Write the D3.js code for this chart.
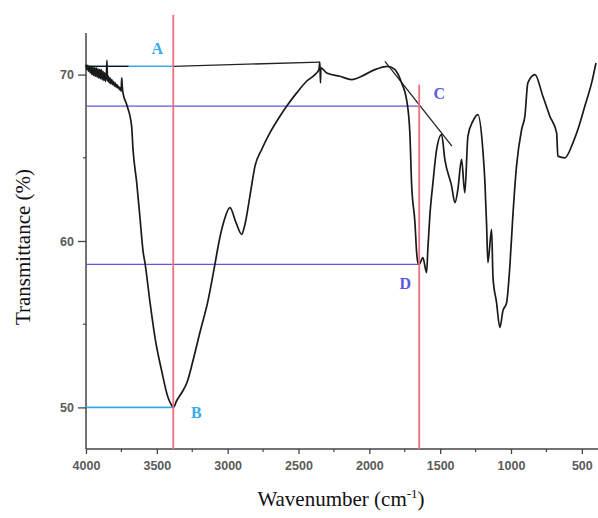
<!DOCTYPE html>
<html>
<head>
<meta charset="utf-8">
<script src="https://cdn.jsdelivr.net/npm/d3@7"></script>
<style>
html,body{margin:0;padding:0;background:#fff;}
svg{display:block;}
</style>
</head>
<body>
<svg id="chart" width="598" height="518"></svg>
<script>
// ---- data ----
const wavenumber = [4000,3994,3988,3982,3976,3970,3964,3958,3952,3946,3940,3934,3928,3922,3916,3910,3904,3898,3892,3886,3880,3874,3868,3862,3856,3852,3848,3842,3836,3830,3824,3818,3812,3806,3800,3794,3788,3782,3776,3770,3764,3758,3752,3748,3744,3739,3713,3678,3668,3642,3619,3596,3584,3548,3513,3466,3421,3400,3384,3360,3316,3287,3245,3196,3139,3090,3060,3026,2984,2941,2901,2878,2843,2807,2760,2702,2631,2575,2513,2443,2384,2356,2349,2345,2342,2301,2208,2125,2031,1961,1869,1819,1772,1737,1714,1702,1678,1666,1657,1648,1622,1596,1587,1573,1551,1525,1490,1467,1419,1396,1375,1349,1326,1304,1269,1234,1199,1184,1172,1163,1137,1127,1102,1079,1057,1031,1008,987,961,925,902,881,831,775,726,678,669,620,563,528,479,431,400];
const transmittance = [70.6,70.3,70.55,70.2,70.5,70.1,70.5,70.0,70.45,69.95,70.4,69.9,70.4,69.85,70.35,69.8,70.3,69.75,70.3,69.7,70.2,69.65,70.1,69.6,70.0,70.85,69.6,69.9,69.5,69.8,69.45,69.7,69.4,69.6,69.3,69.5,69.25,69.4,69.2,69.3,69.1,69.2,69.0,69.8,69.3,68.9,68.2,66.9,65.5,63.5,61.4,59.3,58.7,56.3,54.2,52.2,50.6,50.2,50.0,50.4,51.0,51.5,52.8,54.5,56.4,58.6,60.0,61.2,62.0,61.1,60.4,61.0,62.7,64.5,65.5,66.5,67.5,68.2,68.9,69.6,70.0,70.3,70.75,69.5,70.4,70.1,69.9,69.7,70.0,70.3,70.5,70.3,69.5,68.5,66.5,63.5,61.1,59.3,58.7,58.6,59.0,58.1,59.5,61.5,63.5,65.5,66.4,64.9,63.3,62.3,63.1,64.9,62.9,66.3,67.2,67.6,65.5,63.5,60.9,58.7,60.7,57.8,56.3,54.8,55.8,56.3,58.5,61.5,64.5,66.7,67.5,69.5,70.0,68.7,67.5,66.5,65.1,65.0,65.9,66.7,68.1,69.5,70.7];
const xTickValues = [4000,3500,3000,2500,2000,1500,1000,500];
const xMinorTicks = [3750,3250,2750,2250,1750,1250,750];
const yTickValues = [50,60,70];
const yMinorTicks = [55,65];
// annotation values
const markA = {w:3384, t:70.5, label:"A"};
const markB = {w:3384, t:50.0, label:"B"};
const markC = {w:1648, t:68.1, label:"C"};
const markD = {w:1648, t:58.6, label:"D"};
const baselineAB = [[4000,70.5],[3700,70.5]];
const baselineTop = [[3384,70.5],[2349,70.75]];
const tangentC = [[1890,70.8],[1417,65.7]];
const redTops = [73.6, 69.4];

// ---- layout ----
const svg = d3.select("#chart");
const mL = 86, mR = 596, mT = 33, mB = 449;
const x = d3.scaleLinear().domain([4000,400]).range([mL,mR]);
const y = d3.scaleLinear().domain([47.5,72.5]).range([mB,mT]);

const cyan = "#3aaae6", blue = "#5a5ae0", red = "#f07080";
const tickColor = "#5a5a5a";

// axes
const xAxis = d3.axisBottom(x).tickValues(xTickValues).tickSize(5).tickPadding(7).tickFormat(d3.format("d"));
const gx = svg.append("g").attr("transform",`translate(0,${mB})`).call(xAxis);
gx.select(".domain").attr("stroke","#444").attr("stroke-width",1.5).attr("d",`M${mL},0H${598}`);
gx.selectAll(".tick line").attr("stroke","#444").attr("stroke-width",1.3);
gx.selectAll(".tick text").attr("fill",tickColor).attr("font-family","Arial, 'Liberation Sans', sans-serif").attr("font-weight","bold").attr("font-size",12.5);
svg.append("g").selectAll("line").data(xMinorTicks).join("line")
  .attr("x1",d=>x(d)).attr("x2",d=>x(d)).attr("y1",mB).attr("y2",mB+3)
  .attr("stroke","#444").attr("stroke-width",1.2);

const yAxis = d3.axisLeft(y).tickValues(yTickValues).tickSize(8).tickPadding(4);
const gy = svg.append("g").attr("transform",`translate(${mL},0)`).call(yAxis);
gy.select(".domain").attr("stroke","#444").attr("stroke-width",1.5).attr("d",`M0,${mT}V${mB}`);
gy.selectAll(".tick line").attr("stroke","#444").attr("stroke-width",1.3);
gy.selectAll(".tick text").attr("fill",tickColor).attr("font-family","Arial, 'Liberation Sans', sans-serif").attr("font-weight","bold").attr("font-size",12.5);
svg.append("g").selectAll("line").data(yMinorTicks).join("line")
  .attr("x1",mL).attr("x2",mL-3).attr("y1",d=>y(d)).attr("y2",d=>y(d))
  .attr("stroke","#444").attr("stroke-width",1.2);

// axis titles
svg.append("text").attr("transform",`translate(30,${247}) rotate(-90)`)
  .attr("text-anchor","middle").attr("font-family","'Liberation Serif','Times New Roman',serif")
  .attr("font-size",21).attr("fill","#111").text("Transmittance (%)");
const xt = svg.append("text").attr("x",341).attr("y",506)
  .attr("text-anchor","middle").attr("font-family","'Liberation Serif','Times New Roman',serif")
  .attr("font-size",21).attr("fill","#111");
xt.append("tspan").text("Wavenumber (cm");
xt.append("tspan").attr("dy",-8).attr("font-size",13).text("-1");
xt.append("tspan").attr("dy",8).text(")");

// guide lines
const line = d3.line().x(d=>x(d[0])).y(d=>y(d[1]));
svg.append("line").attr("x1",x(4000)).attr("x2",x(markA.w)).attr("y1",y(markA.t)).attr("y2",y(markA.t)).attr("stroke",cyan).attr("stroke-width",1.6);
svg.append("line").attr("x1",x(4000)).attr("x2",x(markB.w)).attr("y1",y(markB.t)).attr("y2",y(markB.t)).attr("stroke",cyan).attr("stroke-width",1.6);
svg.append("line").attr("x1",x(4000)).attr("x2",x(markC.w)).attr("y1",y(markC.t)).attr("y2",y(markC.t)).attr("stroke",blue).attr("stroke-width",1.3);
svg.append("line").attr("x1",x(4000)).attr("x2",x(markD.w)).attr("y1",y(markD.t)).attr("y2",y(markD.t)).attr("stroke",blue).attr("stroke-width",1.3);
svg.append("path").attr("d",line(baselineAB)).attr("stroke","#111").attr("stroke-width",1.3).attr("fill","none");
svg.append("path").attr("d",line(baselineTop)).attr("stroke","#222").attr("stroke-width",1.3).attr("fill","none");
svg.append("path").attr("d",line(tangentC)).attr("stroke","#222").attr("stroke-width",1.3).attr("fill","none");

// spectrum
const data = wavenumber.map((w,i)=>[w,transmittance[i]]);
const specLine = d3.line().x(d=>x(d[0])).y(d=>y(d[1])).curve(d3.curveMonotoneX);
svg.append("path").attr("d",specLine(data)).attr("fill","none").attr("stroke","#1a1a1a").attr("stroke-width",1.7).attr("stroke-linejoin","round");

// red verticals
svg.append("line").attr("x1",x(markA.w)).attr("x2",x(markA.w)).attr("y1",y(redTops[0])).attr("y2",mB).attr("stroke",red).attr("stroke-width",1.8);
svg.append("line").attr("x1",x(markC.w)).attr("x2",x(markC.w)).attr("y1",y(redTops[1])).attr("y2",mB).attr("stroke",red).attr("stroke-width",1.8);

// labels
const lab = (txt,px,py,col)=>svg.append("text").attr("x",px).attr("y",py).attr("text-anchor","middle")
  .attr("font-family","'Liberation Serif','Times New Roman',serif").attr("font-weight","bold").attr("font-size",16).attr("fill",col).text(txt);
lab(markA.label, x(markA.w)-16, 54, cyan);
lab(markB.label, x(markB.w)+23, 418, cyan);
lab(markC.label, x(markC.w)+20, 99, blue);
lab(markD.label, x(markD.w)-14, 289, blue);
</script>
</body>
</html>
